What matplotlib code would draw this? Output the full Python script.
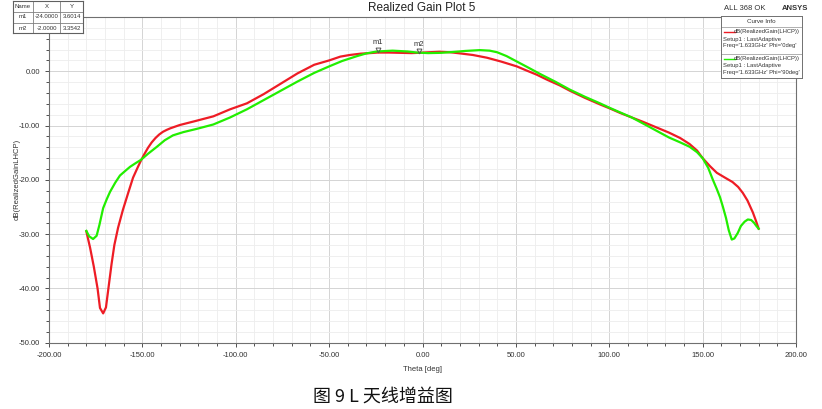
import numpy as np
import matplotlib
matplotlib.use("Agg")
import matplotlib.pyplot as plt
from matplotlib.ticker import MultipleLocator, FuncFormatter

# ==========================================
# Data
# ==========================================
theta_red = [-180, -178, -176, -174, -172.7, -171, -169.5, -168, -166.5, -165, -163, -160.4, -157.5,
             -155, -152.5, -150.7, -149, -147, -145, -143, -141, -139, -137, -135, -130, -122,
             -112, -103, -94, -85, -76, -67, -58, -50, -44, -39, -33, -28, -24, -18, -12,
             -6, -2, 3, 9, 15, 20, 27, 34.5, 42, 50.5, 56, 61, 67, 73.5, 79, 87, 95, 100,
             106, 112, 118, 125, 132, 138, 143, 147, 150, 154, 157.6, 162, 166, 169, 171.5,
             174, 176.9, 178.5, 180]
gain_red = [-29.5, -32.5, -36.0, -40.0, -43.6, -44.6, -43.5, -39.5, -35.5, -32.0, -28.8, -25.5, -22.3,
            -19.6, -17.7, -16.4, -15.3, -14.1, -13.1, -12.3, -11.65, -11.15, -10.8, -10.5, -9.9, -9.2,
            -8.3, -7.0, -5.9, -4.2, -2.3, -0.4, 1.2, 2.0, 2.7, 3.0, 3.25, 3.35, 3.45, 3.45, 3.4,
            3.35, 3.4, 3.5, 3.6, 3.5, 3.3, 3.0, 2.5, 1.8, 0.9, 0.1, -0.6, -1.6, -2.6, -3.6, -4.9, -6.1, -6.8,
            -7.7, -8.5, -9.3, -10.3, -11.3, -12.3, -13.4, -14.6, -16.0, -17.5, -18.7, -19.6, -20.4, -21.3, -22.4,
            -23.8, -26.0, -27.5, -29.0]

theta_grn = [-180, -178.5, -176.4, -174.5, -173, -171, -169, -167.3, -164.5, -162, -159, -156.6,
             -153.5, -150.7, -147, -142.2, -138, -133.6, -128, -120.8, -112, -103, -94,
             -85, -76, -67, -58, -50, -43, -35, -30, -24.4, -16, -8, -3, 3, 10, 16, 23, 30.7,
             36, 40, 45, 50.5, 56, 63, 71, 79, 87, 95, 100, 106, 112, 118, 125, 132, 138,
             143, 147, 150, 153, 155.5, 157.6, 159.3, 160.8, 162.5, 164, 165.6, 167, 168.8,
             170.5, 172.5, 174.2, 176, 177.5, 179, 180]
gain_grn = [-29.4, -30.4, -30.9, -30.3, -28.3, -25.2, -23.5, -22.2, -20.5, -19.2, -18.3, -17.6,
            -16.9, -16.3, -15.2, -13.9, -12.7, -11.8, -11.2, -10.6, -9.8, -8.5, -7.0,
            -5.3, -3.6, -1.9, -0.3, 0.9, 1.9, 2.8, 3.3, 3.65, 3.8, 3.65, 3.45, 3.35, 3.4, 3.55, 3.75, 3.9,
            3.8, 3.5, 2.8, 1.8, 0.8, -0.5, -1.9, -3.4, -4.7, -5.9, -6.7, -7.6, -8.5, -9.6, -10.9, -12.2, -13.1,
            -13.9, -14.9, -16.0, -17.8, -20.0, -21.7, -23.2, -24.9, -27.0, -29.3, -31.0, -30.8, -29.8,
            -28.5, -27.7, -27.3, -27.4, -27.9, -28.6, -29.0]

markers = ["m1", "m2"]
marker_x = [-24.0, -2.0]
marker_y = [3.6014, 3.3542]

legend_red = ["dB(RealizedGain(LHCP))", "Setup1 : LastAdaptive", "Freq='1.633GHz' Phi='0deg'"]
legend_grn = ["dB(RealizedGain(LHCP))", "Setup1 : LastAdaptive", "Freq='1.633GHz' Phi='90deg'"]

RED = "#ee1c25"
GRN = "#22ee00"

# ==========================================
# Figure
# ==========================================
plt.rcParams['font.family'] = ['Liberation Sans', 'DejaVu Sans']
fig = plt.figure(figsize=(8.22, 4.09), dpi=100)
ax = fig.add_axes([49 / 822, 66.3 / 409, 747 / 822, 325.7 / 409])

ax.plot(theta_red, gain_red, color=RED, lw=1.6, zorder=3)
ax.plot(theta_grn, gain_grn, color=GRN, lw=1.6, zorder=4)

# markers
for name, mx, my in zip(markers, marker_x, marker_y):
    ax.plot(mx, my + 0.4, marker="v", ms=3.5, mfc="none", mec="#555555", mew=0.7, zorder=5)
    ax.text(mx, my + 1.0, name, fontsize=5.5, color="#333333", ha="center", va="bottom", zorder=5)

ax.set_xlim(-200, 200)
ax.set_ylim(-50, 10)
ax.xaxis.set_major_locator(MultipleLocator(50))
ax.xaxis.set_minor_locator(MultipleLocator(10))
ax.yaxis.set_major_locator(MultipleLocator(10))
ax.yaxis.set_minor_locator(MultipleLocator(2))
ax.xaxis.set_major_formatter(FuncFormatter(lambda v, p: "%.2f" % v))
# top label (10.00) sits under the marker table in the original
ax.yaxis.set_major_formatter(FuncFormatter(lambda v, p: "" if v > 5 else "%.2f" % v))
ax.tick_params(which="both", direction="out", labelsize=5.5, colors="#333333", width=0.6)
ax.tick_params(which="major", length=3)
ax.tick_params(which="minor", length=2)
ax.grid(which="major", color="#d4d4d4", lw=0.7)
ax.grid(which="minor", color="#ededed", lw=0.6)
ax.set_axisbelow(True)
for s in ax.spines.values():
    s.set_color("#707070")
    s.set_linewidth(0.8)

ax.set_xlabel("Theta [deg]", fontsize=5.5, color="#333333", labelpad=5)
ax.set_ylabel("dB(RealizedGainLHCP)", fontsize=5.5, color="#333333", labelpad=2)
ax.yaxis.set_label_coords(-0.038, 0.5)

# title and header texts
fig.text(422 / 822, 1 - 8 / 409, "Realized Gain Plot 5", fontsize=8.5, ha="center", va="center", color="#222222")
fig.text(745 / 822, 1 - 9 / 409, "ALL 368 OK", fontsize=5.5, ha="center", va="center", color="#333333")
fig.text(795 / 822, 1 - 8 / 409, "ANSYS", fontsize=5.5, ha="center", va="center", color="#333333",
         fontweight="bold")

# marker table
tab = fig.add_axes([13 / 822, 1 - 33 / 409, 70 / 822, 32 / 409])
tab.set_xlim(0, 70)
tab.set_ylim(32, 0)
tab.set_xticks([])
tab.set_yticks([])
tab.set_facecolor("white")
for s in tab.spines.values():
    s.set_color("#606060")
    s.set_linewidth(0.8)
tab.axhline(10.5, color="#808080", lw=0.6)
tab.axhline(21.5, color="#808080", lw=0.6)
tab.axvline(20, color="#808080", lw=0.6)
tab.axvline(47, color="#808080", lw=0.6)
col_x = [10, 33.5, 58.5]
for cx, t in zip(col_x, ["Name", "X", "Y"]):
    tab.text(cx, 5.5, t, fontsize=4.3, ha="center", va="center", color="#333333")
for i, (name, mx, my) in enumerate(zip(markers, marker_x, marker_y)):
    yy = 16 + 11 * i
    tab.text(col_x[0], yy, name, fontsize=4.3, ha="center", va="center", color="#333333")
    tab.text(col_x[1], yy, "%.4f" % mx, fontsize=4.3, ha="center", va="center", color="#333333")
    tab.text(col_x[2], yy, "%.4f" % my, fontsize=4.3, ha="center", va="center", color="#333333")

# curve info legend
leg = fig.add_axes([721 / 822, 1 - 78 / 409, 81 / 822, 62 / 409])
leg.set_xlim(0, 81)
leg.set_ylim(62, 0)
leg.set_xticks([])
leg.set_yticks([])
leg.set_facecolor("white")
for s in leg.spines.values():
    s.set_color("#707070")
    s.set_linewidth(0.7)
leg.text(40.5, 5.5, "Curve Info", fontsize=4.5, ha="center", va="center", color="#333333")
leg.axhline(11, color="#909090", lw=0.5)
leg.axhline(37.5, color="#909090", lw=0.5)
for y0, col, lines in [(16, RED, legend_red), (42.5, GRN, legend_grn)]:
    leg.plot([3, 14], [y0, y0], color=col, lw=1.0)
    leg.text(79, y0, lines[0], fontsize=4.2, ha="right", va="center", color="#333333")
    leg.text(2, y0 + 7, lines[1], fontsize=4.2, ha="left", va="center", color="#333333")
    leg.text(2, y0 + 14, lines[2], fontsize=4.2, ha="left", va="center", color="#333333")

# caption
fig.text(383 / 822, 1 - 397 / 409, "图 9 L 天线增益图", fontsize=13, ha="center", va="center",
         family=["Noto Sans CJK SC", "DejaVu Sans"], color="#111111")

fig.savefig("out.png", dpi=100)
